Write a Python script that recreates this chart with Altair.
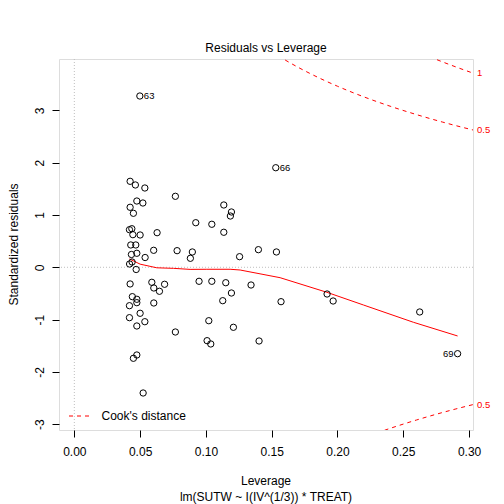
import altair as alt
import pandas as pd

FONT = "Liberation Sans"

# ---- observed points (leverage, standardized residual) ----
lev = [0.0498, 0.1531, 0.0424, 0.0464, 0.0536, 0.0768, 0.0475, 0.0521, 0.0424, 0.0449,
       0.1136, 0.1194, 0.1186, 0.0923, 0.1045, 0.1136, 0.0419, 0.0437, 0.0445, 0.0500,
       0.0629, 0.0429, 0.0467, 0.0603, 0.0781, 0.0897, 0.0882, 0.0434, 0.0475, 0.0538,
       0.1256, 0.1399, 0.1536, 0.0420, 0.0439, 0.0470, 0.0424, 0.0589, 0.0604, 0.0647,
       0.0686, 0.0948, 0.1045, 0.1151, 0.1194, 0.1128, 0.0441, 0.0475, 0.0475, 0.0419,
       0.0604, 0.0500, 0.0419, 0.0536, 0.0475, 0.0768, 0.1022, 0.1209, 0.1009, 0.1037,
       0.0475, 0.0449, 0.0523, 0.1343, 0.1571, 0.1921, 0.1967, 0.2625, 0.1404, 0.2913]
res = [3.277, 1.905, 1.645, 1.575, 1.517, 1.358, 1.268, 1.230, 1.148, 1.033,
       1.192, 1.058, 0.981, 0.853, 0.823, 0.670, 0.719, 0.738, 0.624, 0.618,
       0.662, 0.427, 0.427, 0.325, 0.318, 0.293, 0.172, 0.245, 0.268, 0.187,
       0.203, 0.337, 0.293, 0.063, 0.101, -0.042, -0.319, -0.287, -0.396, -0.459,
       -0.325, -0.268, -0.268, -0.295, -0.492, -0.639, -0.562, -0.612, -0.677, -0.735,
       -0.683, -0.880, -0.964, -1.041, -1.123, -1.238, -1.022, -1.148, -1.404, -1.467,
       -1.678, -1.741, -2.405, -0.339, -0.658, -0.511, -0.645, -0.855, -1.410, -1.653]

# labelled observations
lab_id = ["63", "66", "69"]
lab_x = [0.0498, 0.1531, 0.2913]
lab_y = [3.277, 1.905, -1.653]
lab_side = ["right", "right", "left"]

# red smoother
sm_x = [0.0419, 0.050, 0.0627, 0.0753, 0.088, 0.1007, 0.1184, 0.126, 0.1564,
        0.1919, 0.2197, 0.2577, 0.2913]
sm_y = [0.160, 0.060, -0.010, -0.020, -0.040, -0.038, -0.038, -0.052, -0.199,
        -0.478, -0.721, -1.052, -1.314]

# Cook's distance contours
c05u_x = [0.155, 0.16, 0.17, 0.18, 0.19, 0.20, 0.22, 0.24, 0.26, 0.28, 0.303]
c05u_y = [4.044, 3.969, 3.827, 3.697, 3.576, 3.464, 3.261, 3.082, 2.922, 2.777, 2.627]
c1u_x = [0.27, 0.28, 0.29, 0.303]
c1u_y = [4.028, 3.928, 3.833, 3.715]
c05l_x = [0.23, 0.24, 0.25, 0.26, 0.27, 0.28, 0.29, 0.303]
c05l_y = [-3.169, -3.082, -3.000, -2.922, -2.848, -2.777, -2.710, -2.627]

cook_lab = ["1", "0.5", "0.5"]
cook_lab_y = [3.715, 2.627, -2.627]

x_ticks = [0.0, 0.05, 0.10, 0.15, 0.20, 0.25, 0.30]
y_ticks = [-3, -2, -1, 0, 1, 2, 3]

X_DOM = [-0.01165, 0.3030]
Y_DOM = [-3.113, 3.985]

W, H = 414, 371

xs = alt.Scale(domain=X_DOM, nice=False, zero=False)
ys = alt.Scale(domain=Y_DOM, nice=False, zero=False)

xaxis = alt.Axis(values=x_ticks, labelExpr="format(datum.value, '.2f')", title=None,
                 grid=False, domain=False,
                 tickSize=7, tickColor="#000", tickWidth=1, labelFontSize=12,
                 labelColor="#000", labelFont=FONT, labelPadding=18.7,
                 labelBaseline="alphabetic", labelAlign="center", labelFlush=False,
                 labelOverlap=False)
yaxis = alt.Axis(values=y_ticks, labelExpr="'' + datum.value", title=None,
                 grid=False, domain=False,
                 tickSize=7, tickColor="#000", tickWidth=1, labelFontSize=12,
                 labelColor="#000", labelFont=FONT, labelPadding=8.7, labelAngle=270,
                 labelBaseline="alphabetic", labelAlign="center", labelFlush=False,
                 labelOverlap=False)

X = alt.X("x:Q", scale=xs, axis=xaxis)
Y = alt.Y("y:Q", scale=ys, axis=yaxis)

pts_df = pd.DataFrame({"x": lev, "y": res})
sm_df = pd.DataFrame({"x": sm_x, "y": sm_y})
cook_df = pd.concat([
    pd.DataFrame({"x": c05u_x, "y": c05u_y, "g": "u05"}),
    pd.DataFrame({"x": c1u_x, "y": c1u_y, "g": "u1"}),
    pd.DataFrame({"x": c05l_x, "y": c05l_y, "g": "l05"}),
], ignore_index=True)
lab_df = pd.DataFrame({"x": lab_x, "y": lab_y, "t": lab_id, "s": lab_side})
cook_lab_df = pd.DataFrame({"x": [X_DOM[1]] * 3, "y": cook_lab_y, "t": cook_lab})
one = pd.DataFrame({"x": [0.0], "y": [0.0]})

hzero = alt.Chart(one).mark_rule(color="#BEBEBE", strokeDash=[1, 2], strokeWidth=1).encode(y=Y)
vzero = alt.Chart(one).mark_rule(color="#BEBEBE", strokeDash=[1, 2], strokeWidth=1).encode(x=X)

cook = alt.Chart(cook_df).mark_line(color="#FF0000", strokeDash=[4, 4], strokeWidth=1,
                                    clip=True, interpolate="monotone").encode(
    x=X, y=Y, detail="g:N", order="x:Q")

smooth = alt.Chart(sm_df).mark_line(color="#FF0000", strokeWidth=1).encode(
    x=X, y=Y, order="x:Q")

points = alt.Chart(pts_df).mark_point(shape="circle", filled=False, color="#000",
                                      strokeWidth=1, size=40, opacity=1).encode(x=X, y=Y)

lab_r = alt.Chart(lab_df).transform_filter(alt.datum.s == "right").mark_text(
    align="left", baseline="middle", dx=4, fontSize=9.5, font=FONT, color="#000").encode(
    x=X, y=Y, text="t:N")
lab_l = alt.Chart(lab_df).transform_filter(alt.datum.s == "left").mark_text(
    align="right", baseline="middle", dx=-4, fontSize=9.5, font=FONT, color="#000").encode(
    x=X, y=Y, text="t:N")

cook_labels = alt.Chart(cook_lab_df).mark_text(
    align="left", baseline="middle", dx=4, fontSize=9.5, font=FONT, color="#FF0000").encode(
    x=X, y=Y, text="t:N")

legend_line = alt.Chart(one).mark_rule(color="#FF0000", strokeDash=[4, 4], strokeWidth=1).encode(
    x=alt.value(10), x2=alt.value(32), y=alt.value(357))
legend_text = alt.Chart(pd.DataFrame({"t": ["Cook's distance"]})).mark_text(
    align="left", baseline="middle", fontSize=12, font=FONT, color="#000").encode(
    x=alt.value(42.5), y=alt.value(357), text="t:N")

title_df = pd.DataFrame({"t": ["Residuals vs Leverage"]})
title = alt.Chart(title_df).mark_text(align="center", baseline="alphabetic", fontSize=12,
                                      font=FONT, color="#000").encode(
    x=alt.value(W / 2), y=alt.value(-7), text="t:N")

xt = alt.Chart(pd.DataFrame({"t": ["Leverage"]})).mark_text(
    align="center", baseline="alphabetic", fontSize=12, font=FONT, color="#000").encode(
    x=alt.value(W / 2), y=alt.value(H + 54.6), text="t:N")
xsub = alt.Chart(pd.DataFrame({"t": ["lm(SUTW ~ I(IV^(1/3)) * TREAT)"]})).mark_text(
    align="center", baseline="alphabetic", fontSize=12, font=FONT, color="#000").encode(
    x=alt.value(W / 2), y=alt.value(H + 70.5), text="t:N")
yt = alt.Chart(pd.DataFrame({"t": ["Standardized residuals"]})).mark_text(
    align="center", baseline="alphabetic", fontSize=12, font=FONT, color="#000",
    angle=270).encode(x=alt.value(-41), y=alt.value(H / 2), text="t:N")

chart = alt.layer(
    hzero, vzero, cook, smooth, points, lab_r, lab_l, cook_labels,
    legend_line, legend_text, title, xt, xsub, yt
).properties(
    width=W, height=H,
    autosize=alt.AutoSizeParams(type="none"),
    padding={"left": 51, "top": 51, "right": 23, "bottom": 74},
    background="white",
).configure_view(
    stroke="#000", strokeWidth=1
).configure(font=FONT)

chart.save("out.html", embed_options={"renderer": "svg", "actions": False})
